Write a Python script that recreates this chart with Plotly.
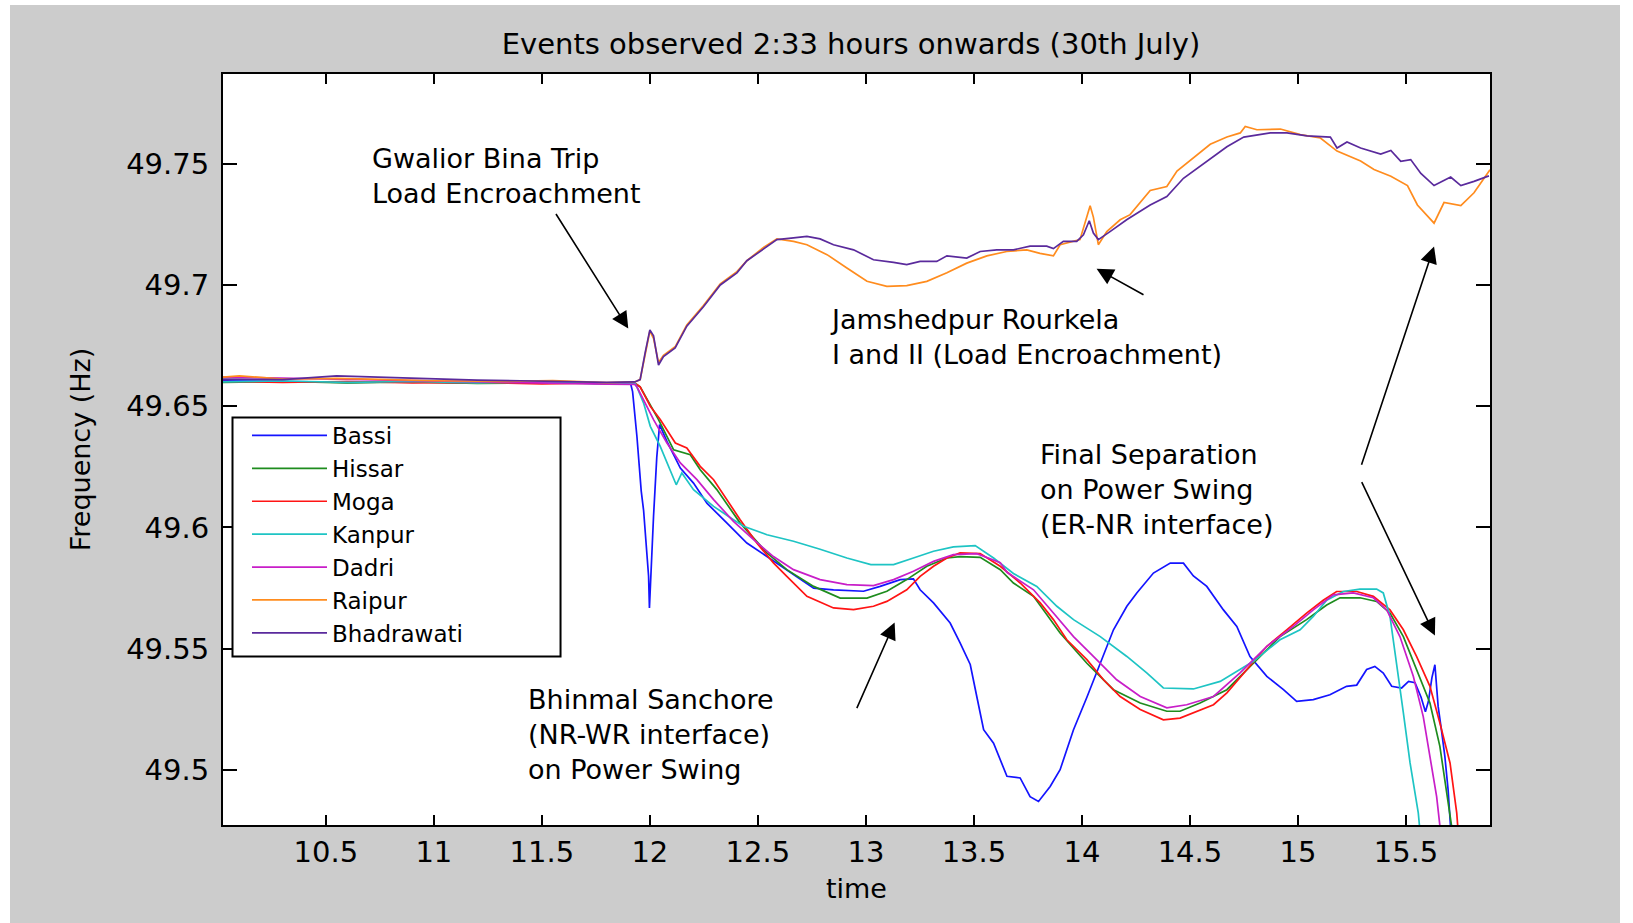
import plotly.graph_objects as go

# ---------------- data (time, frequency in Hz) ----------------
BASSI = [(10.02,49.6605),(10.3,49.6602),(10.6,49.6598),(10.9,49.660),(11.2,49.6596),(11.5,49.6598),(11.75,49.6594),(11.91,49.6596),
         (11.92,49.656),(11.94,49.6376),(11.96,49.615),(11.971,49.607),(11.985,49.59),(11.994,49.580),(11.998,49.5668),(12.006,49.585),
         (12.017,49.6046),(12.032,49.629),(12.045,49.6424),(12.079,49.6355),(12.141,49.6245),(12.202,49.6183),(12.264,49.610),
         (12.357,49.6018),(12.449,49.5936),(12.542,49.588),(12.634,49.5826),(12.758,49.575),(12.85,49.5743),(12.989,49.5737),
         (13.066,49.5757),(13.159,49.5785),(13.22,49.5788),(13.251,49.5743),(13.313,49.5689),(13.39,49.5606),(13.436,49.5524),
         (13.483,49.5435),(13.514,49.530),(13.545,49.5166),(13.591,49.511),(13.653,49.4974),(13.714,49.4967),(13.76,49.489),
         (13.799,49.487),(13.853,49.4932),(13.899,49.5001),(13.961,49.5166),(14.023,49.530),(14.085,49.544),(14.146,49.5578),
         (14.208,49.5675),(14.254,49.573),(14.331,49.5812),(14.409,49.5853),(14.47,49.5853),(14.516,49.580),(14.578,49.5757),
         (14.655,49.566),(14.717,49.5592),(14.778,49.5468),(14.856,49.5386),(14.933,49.5331),(14.994,49.5283),(15.071,49.529),
         (15.148,49.531),(15.225,49.5345),(15.272,49.535),(15.318,49.5414),(15.356,49.5427),(15.395,49.540),(15.434,49.5345),
         (15.48,49.5338),(15.512,49.5365),(15.542,49.536),(15.57,49.530),(15.59,49.524),(15.604,49.5283),(15.62,49.538),
         (15.634,49.5434),(15.641,49.5359),(15.649,49.5262),(15.664,49.5166),(15.68,49.5056),(15.695,49.4919),(15.715,49.465)]

HISSAR = [(10.02,49.6598),(10.3,49.6602),(10.6,49.6596),(10.9,49.660),(11.2,49.6594),(11.5,49.6597),(11.8,49.6593),(11.93,49.6595),
          (11.955,49.658),(12.04,49.6445),(12.11,49.632),(12.187,49.630),(12.233,49.6238),(12.31,49.6156),(12.418,49.6018),
          (12.542,49.5895),(12.634,49.5826),(12.758,49.5757),(12.881,49.5709),(13.005,49.5709),(13.097,49.5737),(13.189,49.5785),
          (13.282,49.584),(13.375,49.5874),(13.436,49.588),(13.529,49.5877),(13.622,49.5826),(13.683,49.5771),(13.776,49.5716),
          (13.899,49.5565),(14.023,49.544),(14.146,49.5331),(14.27,49.5276),(14.393,49.5242),(14.454,49.5242),(14.547,49.5276),
          (14.671,49.5331),(14.794,49.544),(14.917,49.555),(15.04,49.562),(15.133,49.568),(15.195,49.571),(15.287,49.571),
          (15.364,49.5695),(15.426,49.5647),(15.488,49.555),(15.549,49.5414),(15.611,49.5276),(15.657,49.5097),(15.688,49.4919),
          (15.711,49.477),(15.725,49.465)]

MOGA = [(10.02,49.6602),(10.3,49.6598),(10.6,49.6602),(10.9,49.6596),(11.2,49.6598),(11.5,49.6592),(11.8,49.6596),(11.93,49.6595),
        (11.955,49.658),(12.002,49.650),(12.048,49.6445),(12.079,49.6403),(12.118,49.6348),(12.171,49.6328),(12.233,49.6252),
        (12.295,49.6197),(12.357,49.6115),(12.418,49.6032),(12.495,49.5936),(12.572,49.5854),(12.634,49.5798),(12.727,49.5716),
        (12.85,49.5668),(12.943,49.5661),(13.035,49.5675),(13.097,49.5695),(13.189,49.5743),(13.251,49.5798),(13.313,49.584),
        (13.375,49.5874),(13.436,49.5895),(13.529,49.5892),(13.622,49.584),(13.714,49.5771),(13.807,49.5689),(13.868,49.562),
        (13.93,49.5537),(14.023,49.5455),(14.1,49.5372),(14.177,49.5303),(14.27,49.5249),(14.377,49.5207),(14.454,49.5214),
        (14.547,49.5249),(14.609,49.5269),(14.671,49.5318),(14.763,49.5414),(14.856,49.551),(14.948,49.5578),(15.04,49.5647),
        (15.117,49.570),(15.179,49.5736),(15.272,49.5736),(15.349,49.5716),(15.426,49.566),(15.488,49.5578),(15.549,49.5468),
        (15.611,49.5345),(15.657,49.5194),(15.704,49.5029),(15.735,49.4823),(15.75,49.465)]

KANPUR = [(10.02,49.6600),(10.3,49.6604),(10.6,49.6598),(10.9,49.6602),(11.2,49.6596),(11.5,49.660),(11.8,49.6594),(11.93,49.6596),
          (11.94,49.658),(11.971,49.6513),(12.002,49.6417),(12.048,49.6334),(12.122,49.6176),(12.148,49.6225),(12.202,49.6156),
          (12.295,49.6087),(12.387,49.6032),(12.434,49.6005),(12.542,49.597),(12.665,49.5943),(12.788,49.591),(12.912,49.5874),
          (13.023,49.5847),(13.128,49.5847),(13.22,49.5874),(13.313,49.5902),(13.405,49.592),(13.506,49.5925),(13.591,49.5874),
          (13.683,49.581),(13.791,49.5757),(13.884,49.5675),(13.961,49.562),(14.085,49.555),(14.208,49.5468),(14.3,49.540),
          (14.377,49.5338),(14.516,49.5334),(14.64,49.5365),(14.732,49.5414),(14.794,49.5448),(14.917,49.5537),(15.01,49.5578),
          (15.071,49.5633),(15.133,49.570),(15.21,49.5736),(15.287,49.5746),(15.364,49.5746),(15.395,49.573),(15.426,49.5633),
          (15.457,49.544),(15.488,49.5235),(15.519,49.5029),(15.557,49.4823),(15.575,49.465)]

DADRI = [(10.02,49.662),(10.3,49.6615),(10.6,49.661),(10.9,49.6605),(11.2,49.660),(11.5,49.6596),(11.8,49.6591),(11.93,49.659),
         (11.94,49.658),(12.017,49.6445),(12.079,49.6348),(12.141,49.6266),(12.218,49.6197),(12.295,49.6115),(12.387,49.6025),
         (12.48,49.595),(12.572,49.588),(12.665,49.5826),(12.788,49.5785),(12.912,49.5764),(13.035,49.576),(13.128,49.5785),
         (13.22,49.5819),(13.313,49.586),(13.405,49.5888),(13.514,49.5892),(13.622,49.5855),(13.653,49.5815),(13.776,49.5743),
         (13.868,49.5647),(13.961,49.555),(14.053,49.5468),(14.161,49.5372),(14.27,49.5303),(14.393,49.5256),(14.485,49.5269),
         (14.609,49.5303),(14.732,49.540),(14.856,49.551),(14.979,49.5592),(15.071,49.566),(15.164,49.5722),(15.256,49.573),
         (15.349,49.571),(15.411,49.566),(15.472,49.555),(15.534,49.5386),(15.58,49.522),(15.611,49.5056),(15.642,49.489),
         (15.657,49.477),(15.67,49.465)]

RAIPUR = [(10.02,49.662),(10.1,49.6625),(10.3,49.6612),(10.55,49.6615),(10.8,49.661),(11.0,49.6605),(11.3,49.6602),(11.55,49.6606),
          (11.8,49.6597),(11.93,49.660),(11.955,49.661),(11.978,49.672),(12.0,49.681),(12.017,49.678),(12.04,49.668),(12.063,49.671),
          (12.117,49.6745),(12.171,49.6835),(12.248,49.6915),(12.326,49.7005),(12.403,49.7055),(12.449,49.710),(12.526,49.7155),
          (12.588,49.719),(12.665,49.718),(12.727,49.7166),(12.82,49.7125),(12.912,49.707),(13.005,49.7015),(13.097,49.6994),
          (13.189,49.6997),(13.282,49.7015),(13.375,49.705),(13.467,49.709),(13.56,49.712),(13.652,49.7138),(13.745,49.7145),
          (13.806,49.713),(13.868,49.712),(13.899,49.7166),(13.991,49.7187),(14.038,49.7327),(14.053,49.728),(14.076,49.7166),
          (14.115,49.722),(14.177,49.7269),(14.223,49.729),(14.316,49.739),(14.393,49.7406),(14.44,49.747),(14.517,49.7525),
          (14.594,49.758),(14.671,49.761),(14.733,49.7627),(14.756,49.7654),(14.81,49.764),(14.919,49.7643),(15.011,49.762),
          (15.104,49.7606),(15.181,49.7552),(15.29,49.7511),(15.352,49.7476),(15.43,49.7448),(15.507,49.741),(15.553,49.733),
          (15.63,49.7255),(15.676,49.734),(15.754,49.7327),(15.815,49.738),(15.877,49.746),(15.889,49.7475)]

BHADRAWATI = [(10.02,49.6612),(10.3,49.661),(10.55,49.6625),(10.8,49.6618),(11.0,49.6612),(11.2,49.6608),(11.4,49.6605),(11.6,49.660),
              (11.8,49.6598),(11.93,49.660),(11.955,49.661),(11.978,49.672),(12.0,49.6815),(12.017,49.679),(12.04,49.667),(12.063,49.6705),
              (12.117,49.674),(12.171,49.683),(12.248,49.691),(12.326,49.700),(12.403,49.705),(12.449,49.710),(12.526,49.715),
              (12.588,49.7187),(12.665,49.7194),(12.727,49.720),(12.788,49.719),(12.85,49.7166),(12.943,49.7145),(13.035,49.7104),
              (13.128,49.7093),(13.189,49.7084),(13.251,49.7097),(13.328,49.7097),(13.375,49.712),(13.467,49.7111),(13.529,49.7138),
              (13.606,49.7145),(13.683,49.7145),(13.76,49.716),(13.837,49.716),(13.868,49.715),(13.914,49.718),(13.976,49.718),
              (14.007,49.7207),(14.034,49.7265),(14.053,49.7214),(14.076,49.7187),(14.13,49.722),(14.207,49.7269),(14.316,49.733),
              (14.393,49.7365),(14.47,49.744),(14.578,49.751),(14.671,49.757),(14.749,49.761),(14.872,49.7627),(14.949,49.7627),
              (15.042,49.7615),(15.15,49.761),(15.181,49.7565),(15.227,49.759),(15.29,49.7565),(15.383,49.754),(15.43,49.7555),
              (15.476,49.751),(15.522,49.7517),(15.569,49.746),(15.63,49.741),(15.707,49.7445),(15.754,49.741),(15.815,49.7427),
              (15.884,49.745)]

SERIES_NAMES = ["Bassi", "Hissar", "Moga", "Kanpur", "Dadri", "Raipur", "Bhadrawati"]
SERIES_DATA = [BASSI, HISSAR, MOGA, KANPUR, DADRI, RAIPUR, BHADRAWATI]
SERIES_COLORS = ["#1414ff", "#1e8c1e", "#ff1414", "#1ec4c4", "#c81ec8", "#ff8c1e", "#5a2a9c"]

X_TICKS = [10.5, 11, 11.5, 12, 12.5, 13, 13.5, 14, 14.5, 15, 15.5]
X_TICKTEXT = ["10.5", "11", "11.5", "12", "12.5", "13", "13.5", "14", "14.5", "15", "15.5"]
Y_TICKS = [49.5, 49.55, 49.6, 49.65, 49.7, 49.75]
Y_TICKTEXT = ["49.5", "49.55", "49.6", "49.65", "49.7", "49.75"]
X_RANGE = [10.024, 15.889]
Y_RANGE = [49.4773, 49.787]

# annotation texts (paper position of top-left corner)
NOTES = [
    ("Gwalior Bina Trip<br>Load Encroachment", 0.116, 0.911),
    ("Jamshedpur Rourkela<br>I and II (Load Encroachment)", 0.4775, 0.6965),
    ("Final Separation<br>on Power Swing<br>(ER-NR interface)", 0.6433, 0.5167),
    ("Bhinmal Sanchore<br>(NR-WR interface)<br>on Power Swing", 0.2391, 0.1905),
]
ARROWS = [  # (head_x, head_y, tail_x, tail_y) in data coordinates
    (11.900, 49.682, 11.561, 49.7299),
    (14.068, 49.7067, 14.292, 49.6956),
    (15.630, 49.7159, 15.292, 49.6252),
    (15.634, 49.5554, 15.292, 49.6193),
    (13.133, 49.5608, 12.955, 49.5249),
]

FONT = "DejaVu Sans"

fig = go.Figure()
for name, data, color in zip(SERIES_NAMES, SERIES_DATA, SERIES_COLORS):
    t = [p[0] for p in data]
    f = [p[1] for p in data]
    fig.add_trace(go.Scatter(x=t, y=f, mode="lines", name=name,
                             line=dict(color=color, width=1.7)))

annotations = []
for text, xp, yp in NOTES:
    annotations.append(dict(text=text, x=xp, y=yp, xref="paper", yref="paper",
                            xanchor="left", yanchor="top", align="left", showarrow=False,
                            font=dict(family=FONT, size=27, color="black")))
for hx, hy, tx, ty in ARROWS:
    annotations.append(dict(text="", x=hx, y=hy, xref="x", yref="y",
                            ax=tx, ay=ty, axref="x", ayref="y",
                            showarrow=True, arrowhead=2, arrowsize=2.1, arrowwidth=1.6,
                            arrowcolor="black"))

axis_common = dict(showline=True, linecolor="black", linewidth=2, mirror="ticks",
                   ticks="inside", tickwidth=2, tickcolor="black", showgrid=False,
                   zeroline=False, tickfont=dict(family=FONT, size=29, color="black"))

shapes = [
    # white page strips around the grey figure area
    dict(type="rect", xref="paper", yref="paper", x0=-0.2, x1=-0.1681, y0=-0.2, y1=1.2,
         fillcolor="white", line_width=0, layer="above"),
    dict(type="rect", xref="paper", yref="paper", x0=1.1026, x1=1.2, y0=-0.2, y1=1.2,
         fillcolor="white", line_width=0, layer="above"),
    dict(type="rect", xref="paper", yref="paper", x0=-0.2, x1=1.2, y0=1.0919, y1=1.2,
         fillcolor="white", line_width=0, layer="above"),
    # legend frame
    dict(type="rect", xref="paper", yref="paper", x0=0.0075, x1=0.2664, y0=0.2244, y1=0.5426,
         fillcolor="white", line=dict(color="black", width=2), layer="above"),
]

fig.update_layout(
    width=1633, height=923,
    margin=dict(l=223, r=143, t=74, b=98, autoexpand=False),
    paper_bgcolor="#cccccc", plot_bgcolor="white",
    font=dict(family=FONT, color="black"),
    title=dict(text="Events observed 2:33 hours onwards (30th July)",
               x=851 / 1633, xanchor="center", y=1 - 44 / 923, yanchor="middle",
               font=dict(family=FONT, size=29, color="black")),
    xaxis=dict(range=X_RANGE, tickvals=X_TICKS, ticktext=X_TICKTEXT, ticklen=10,
               title=dict(text="time", font=dict(family=FONT, size=27, color="black"), standoff=11),
               **axis_common),
    yaxis=dict(range=Y_RANGE, tickvals=Y_TICKS, ticktext=Y_TICKTEXT, ticklen=14,
               ticklabelstandoff=6,
               title=dict(text="Frequency (Hz)", font=dict(family=FONT, size=27, color="black"), standoff=28),
               **axis_common),
    legend=dict(x=(247 - 223) / 1267, y=(825 - 414) / 751, xanchor="left", yanchor="top",
                bgcolor="rgba(0,0,0,0)", borderwidth=0,
                font=dict(family=FONT, size=23, color="black"),
                itemwidth=75, tracegroupgap=0),
    annotations=annotations,
    shapes=shapes,
)

fig.write_html("out.html", config={"displayModeBar": False},
               post_script="document.body.style.margin='0px';")
